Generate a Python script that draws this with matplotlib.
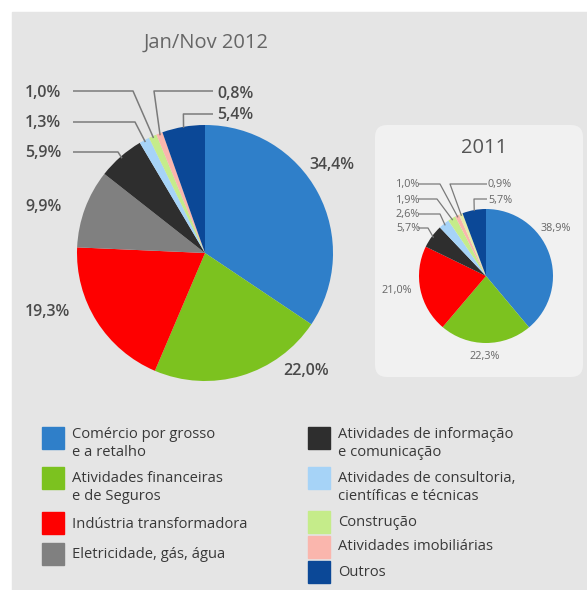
import numpy as np
import matplotlib.pyplot as plt
from matplotlib.patches import Rectangle, FancyBboxPatch

plt.rcParams['font.family'] = ['Open Sans', 'DejaVu Sans']

# sectors, in the order the slices are drawn (clockwise from 12 o'clock)
setores = ['Comércio por grosso\ne a retalho',
           'Atividades financeiras\ne de Seguros',
           'Indústria transformadora',
           'Eletricidade, gás, água',
           'Atividades de informação\ne comunicação',
           'Atividades de consultoria,\ncientíficas e técnicas',
           'Construção',
           'Atividades imobiliárias',
           'Outros']
cores = ['#2f7fc9', '#7cc21f', '#fe0000', '#808080', '#2e2e2e',
         '#a6d3f7', '#c5ec8a', '#fab6ad', '#0b4897']

# Jan/Nov 2012 shares (%)
v2012 = [34.4, 22.0, 19.3, 9.9, 5.9, 1.3, 1.0, 0.8, 5.4]
# 2011 shares (%)
v2011 = [38.9, 22.3, 21.0, 5.7, 2.6, 1.9, 1.0, 0.9, 5.7]
cores2011 = ['#2f7fc9', '#7cc21f', '#fe0000', '#2e2e2e', '#a6d3f7',
             '#c5ec8a', '#fab6ad', '#e6eca8', '#0b4897']

W, H = 587, 590
fig = plt.figure(figsize=(W / 100, H / 100), dpi=100)
ax = fig.add_axes([0, 0, 1, 1])

# backgrounds
ax.add_patch(Rectangle((12, 12), W - 12, H - 12, color='#e5e5e5', zorder=0))
ax.add_patch(FancyBboxPatch((375, 125), 208, 252,
                            boxstyle='round,pad=0,rounding_size=12',
                            fc='#f1f1f1', ec='none', zorder=0.5))


def mid_point(vals, k, cx, cy, r):
    # point on the rim at the middle of slice k (pixel coords, y down)
    c = np.cumsum(vals) / np.sum(vals)
    mid = c[k] - vals[k] / np.sum(vals) / 2
    phi = np.radians(90 - 360 * mid)
    return cx + r * np.cos(phi), cy - r * np.sin(phi)


def leader(vals, k, cx, cy, r, pts, lw=1.1):
    ex, ey = mid_point(vals, k, cx, cy, r)
    xs = [p[0] for p in pts] + [ex]
    ys = [p[1] for p in pts] + [ey]
    ax.plot(xs, ys, color='#7a7a7a', lw=lw, zorder=3, solid_capstyle='butt')


# ---- Jan/Nov 2012 ----
cx, cy, r = 205, 253, 128
ax.pie(v2012, colors=cores, startangle=-90, counterclock=True,
       center=(cx, cy), radius=r, wedgeprops=dict(linewidth=0))
ax.text(206, 43, 'Jan/Nov 2012', fontsize=14.5, color='#666666',
        ha='center', va='center')

lab = dict(fontsize=11.5, color='#4a4a4a', fontweight='semibold', va='center')
fmt = lambda v: ('%.1f%%' % v).replace('.', ',')
ax.text(25, 93, fmt(v2012[6]), ha='left', **lab)
ax.text(25, 123, fmt(v2012[5]), ha='left', **lab)
ax.text(25, 153, fmt(v2012[4]), ha='left', **lab)
ax.text(25, 207, fmt(v2012[3]), ha='left', **lab)
ax.text(25, 312, fmt(v2012[2]), ha='left', **lab)
ax.text(283, 371, fmt(v2012[1]), ha='left', **lab)
ax.text(309, 165, fmt(v2012[0]), ha='left', **lab)
ax.text(217, 94, fmt(v2012[7]), ha='left', **lab)
ax.text(217, 115, fmt(v2012[8]), ha='left', **lab)

leader(v2012, 6, cx, cy, r - 2, [(73, 91), (133, 91)])
leader(v2012, 5, cx, cy, r - 2, [(73, 122), (135, 122)])
leader(v2012, 4, cx, cy, r - 2, [(73, 152), (118, 152)])
leader(v2012, 7, cx, cy, r - 2, [(213, 91), (154, 91)])
leader(v2012, 8, cx, cy, r - 1, [(213, 114), (183.4, 114)])

# ---- 2011 ----
cx2, cy2, r2 = 486, 276, 67
ax.pie(v2011, colors=cores2011, startangle=-90, counterclock=True,
       center=(cx2, cy2), radius=r2, wedgeprops=dict(linewidth=0))
ax.text(484, 148, '2011', fontsize=14.5, color='#555555',
        ha='center', va='center')

lab2 = dict(fontsize=7.8, color='#666666', va='center')
ax.text(396, 185, fmt(v2011[6]), ha='left', **lab2)
ax.text(396, 200, fmt(v2011[5]), ha='left', **lab2)
ax.text(396, 214, fmt(v2011[4]), ha='left', **lab2)
ax.text(396, 228, fmt(v2011[3]), ha='left', **lab2)
ax.text(488, 185, fmt(v2011[7]), ha='left', **lab2)
ax.text(488, 200, fmt(v2011[8]), ha='left', **lab2)
ax.text(541, 228, fmt(v2011[0]), ha='left', **lab2)
ax.text(469, 357, fmt(v2011[1]), ha='left', **lab2)
ax.text(381, 291, fmt(v2011[2]), ha='left', **lab2)

leader(v2011, 6, cx2, cy2, r2 - 2, [(418, 184), (440, 184)], lw=0.9)
leader(v2011, 5, cx2, cy2, r2 - 2, [(418, 199), (437, 199)], lw=0.9)
leader(v2011, 4, cx2, cy2, r2 - 2, [(418, 214), (440, 214)], lw=0.9)
leader(v2011, 3, cx2, cy2, r2 - 2, [(418, 228), (428, 228)], lw=0.9)
leader(v2011, 7, cx2, cy2, r2 - 2, [(487, 184), (450, 184)], lw=0.9)
leader(v2011, 8, cx2, cy2, r2 - 1, [(487, 199), (474, 199)], lw=0.9)

# ---- legend ----
esq = [(42, 427, 434), (42, 467, 478), (42, 512, 524), (42, 543, 555)]
dir_ = [(308, 427, 434), (308, 467, 478), (308, 511, 522),
        (308, 536, 547), (308, 561, 573)]
for i, (x0, y0, yt) in enumerate(esq + dir_):
    ax.add_patch(Rectangle((x0, y0), 22, 22, color=cores[i], zorder=2))
    txt = setores[i]
    if '\n' in txt:
        yt = yt + 9.5
    ax.text(x0 + 30, yt, txt, fontsize=10.6, color='#383838', ha='left',
            va='center', linespacing=1.2)

ax.set_xlim(0, W)
ax.set_ylim(H, 0)
ax.axis('off')
fig.savefig('out.png', dpi=100, facecolor='white')
